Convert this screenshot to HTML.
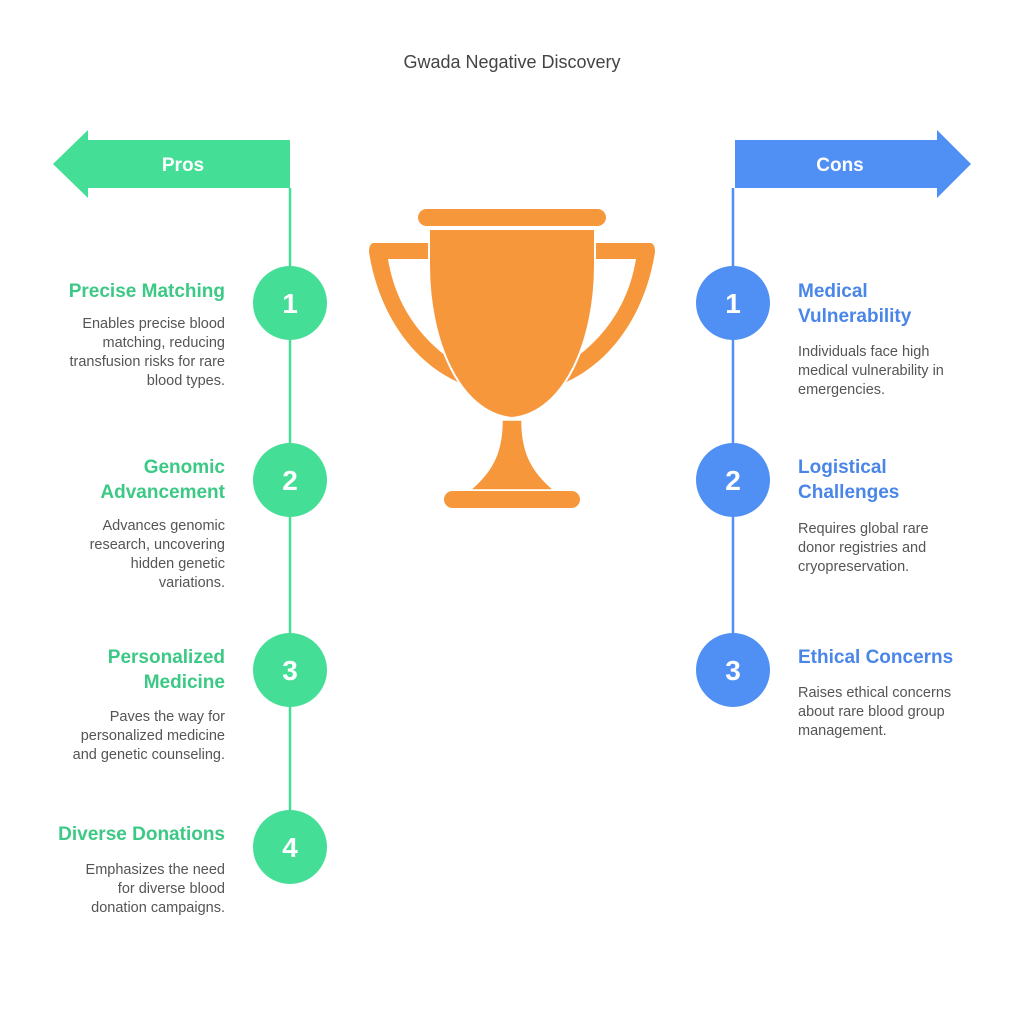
<!DOCTYPE html>
<html><head><meta charset="utf-8"><style>
html,body{margin:0;padding:0;background:#fff}
#c{position:relative;width:1024px;height:1024px;overflow:hidden;font-family:"Liberation Sans",Arial,sans-serif}
.t{position:absolute;font-weight:bold;font-size:19px;line-height:25px}
.d{position:absolute;font-size:14.5px;line-height:19px;color:#555}
.L{left:0;width:225px;text-align:right;color:#3cc985}
.R{left:798px;width:200px;text-align:left;color:#4a86e8}
.dl{left:0;width:225px;text-align:right}
.dr{left:798px;width:200px}
</style></head><body><div id="c">
<svg width="1024" height="1024" style="position:absolute;left:0;top:0">
<line x1="290" y1="188" x2="290" y2="820" stroke="#45de96" stroke-width="2.5"/>
<line x1="733" y1="188" x2="733" y2="640" stroke="#5090f5" stroke-width="2.5"/>
<polygon points="290,140 88,140 88,130 53,164 88,198 88,188 290,188" fill="#45de96"/>
<polygon points="735,140 937,140 937,130 971,164 937,198 937,188 735,188" fill="#5090f5"/>
<text x="183" y="171" font-family="Liberation Sans" font-weight="bold" font-size="19" fill="#fff" text-anchor="middle">Pros</text>
<text x="840" y="171" font-family="Liberation Sans" font-weight="bold" font-size="19" fill="#fff" text-anchor="middle">Cons</text>
<g fill="#45de96">
<circle cx="290" cy="303" r="37"/><circle cx="290" cy="480" r="37"/><circle cx="290" cy="670" r="37"/><circle cx="290" cy="847" r="37"/></g>
<g fill="#5090f5">
<circle cx="733" cy="303" r="37"/><circle cx="733" cy="480" r="37"/><circle cx="733" cy="670" r="37"/></g>
<g font-family="Liberation Sans" font-weight="bold" font-size="28" fill="#fff" text-anchor="middle">
<text x="290" y="313">1</text><text x="290" y="490">2</text><text x="290" y="680">3</text><text x="290" y="857">4</text>
<text x="733" y="313">1</text><text x="733" y="490">2</text><text x="733" y="680">3</text></g>
<g fill="#f7973c">
<rect x="418" y="209" width="188" height="17" rx="8.5"/>
<path d="M374,243 H430 V259 H388 C395,302 418,340 462,367 L462,384 C410,362 378,310 369,252 Q369,243 374,243 Z"/>
<path d="M650,243 H594 V259 H636 C629,302 606,340 562,367 L562,384 C614,362 646,310 655,252 Q655,243 650,243 Z"/>
<path d="M429,229 H595 V265 C595,340 565,413 512,418 C459,413 429,340 429,265 Z" stroke="#fff" stroke-width="2"/>
<path d="M502,420 H522 C522,450 530,470 554,490 H470 C494,470 502,450 502,420 Z" stroke="#fff" stroke-width="1.5"/>
<rect x="444" y="491" width="136" height="17" rx="8.5"/>
</g>
</svg>
<div style="position:absolute;left:0;width:1024px;top:52px;text-align:center;font-size:18px;color:#444">Gwada Negative Discovery</div>

<div class="t L" style="top:279px">Precise Matching</div>
<div class="d dl" style="top:315px">Enables precise blood<br>matching, reducing<br>transfusion risks for rare<br>blood types.</div>
<div class="t L" style="top:455px">Genomic<br>Advancement</div>
<div class="d dl" style="top:517px">Advances genomic<br>research, uncovering<br>hidden genetic<br>variations.</div>
<div class="t L" style="top:645px">Personalized<br>Medicine</div>
<div class="d dl" style="top:708px">Paves the way for<br>personalized medicine<br>and genetic counseling.</div>
<div class="t L" style="top:822px">Diverse Donations</div>
<div class="d dl" style="top:861px">Emphasizes the need<br>for diverse blood<br>donation campaigns.</div>

<div class="t R" style="top:279px">Medical<br>Vulnerability</div>
<div class="d dr" style="top:343px">Individuals face high<br>medical vulnerability in<br>emergencies.</div>
<div class="t R" style="top:455px">Logistical<br>Challenges</div>
<div class="d dr" style="top:520px">Requires global rare<br>donor registries and<br>cryopreservation.</div>
<div class="t R" style="top:645px">Ethical Concerns</div>
<div class="d dr" style="top:684px">Raises ethical concerns<br>about rare blood group<br>management.</div>
</div></body></html>
